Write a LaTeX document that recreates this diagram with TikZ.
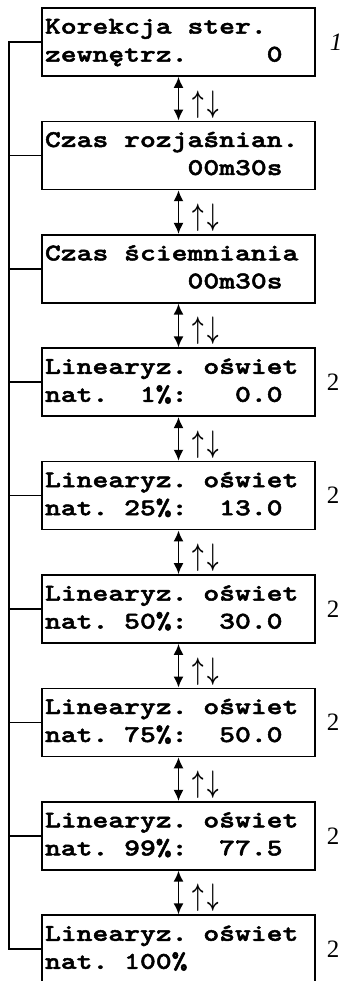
\documentclass[tikz,border=0pt]{standalone}
\usepackage{fontspec}
\setmainfont{Liberation Serif}
% slab-serif typewriter face for the display texts, widened to a 15.84pt cell
\newfontfamily\lcdfamily[FakeStretch=1.257, FakeBold=2]{lmmonolt10-bold.otf}
\usetikzlibrary{arrows.meta}

\tikzset{
  menubox/.style={draw, line width=1.7pt, minimum width=273pt, minimum height=68pt,
    text width=267pt, inner xsep=3pt, inner ysep=0pt, align=left,
    font=\lcdfamily\fontsize{24}{28}\selectfont},
  rail/.style={line width=1.7pt},
  navarrow/.style={line width=1.7pt, {Latex[width=10pt,length=11pt]}-{Latex[width=10pt,length=11pt]}},
  navlabel/.style={anchor=center, inner sep=0pt, font=\fontsize{24.88}{25}\selectfont\boldmath},
  sidenote/.style={inner sep=0pt, font=\fontsize{25}{25}\selectfont}
}

\begin{document}
\begin{tikzpicture}[x=1pt, y=-1pt]
  \clip (0,0) rectangle (348,981);
  \fill[white] (0,0) rectangle (348,981);

  % menu screens, one every 113.4pt
  \node[menubox] (b1) at (178.5, 42.0)  {\strut Korekcja\phantom{0}ster.\\\strut zewnętrz.\phantom{00000}0};
  \node[menubox] (b2) at (178.5, 155.4) {\strut Czas\phantom{0}rozjaśnian.\\\strut\phantom{000000000}00m30s};
  \node[menubox] (b3) at (178.5, 268.8) {\strut Czas\phantom{0}ściemniania\\\strut\phantom{000000000}00m30s};
  \node[menubox] (b4) at (178.5, 382.2) {\strut Linearyz.\phantom{0}oświet\\\strut nat.\phantom{00}1\%:\phantom{000}0.0};
  \node[menubox] (b5) at (178.5, 495.6) {\strut Linearyz.\phantom{0}oświet\\\strut nat.\phantom{0}25\%:\phantom{00}13.0};
  \node[menubox] (b6) at (178.5, 609.0) {\strut Linearyz.\phantom{0}oświet\\\strut nat.\phantom{0}50\%:\phantom{00}30.0};
  \node[menubox] (b7) at (178.5, 722.4) {\strut Linearyz.\phantom{0}oświet\\\strut nat.\phantom{0}75\%:\phantom{00}50.0};
  \node[menubox] (b8) at (178.5, 835.8) {\strut Linearyz.\phantom{0}oświet\\\strut nat.\phantom{0}99\%:\phantom{00}77.5};
  \node[menubox] (b9) at (178.5, 949.2) {\strut Linearyz.\phantom{0}oświet\\\strut nat.\phantom{0}100\%};

  % up/down navigation between consecutive screens
  \foreach \a/\b in {b1/b2,b2/b3,b3/b4,b4/b5,b5/b6,b6/b7,b7/b8,b8/b9}{
    \draw[navarrow] (\a.south) -- (\b.north);
    \node[navlabel] (lbl-\a) at ([xshift=27pt, yshift=-27.5pt]\a.south)
      {\scalebox{0.8}[1.25]{$\uparrow\mkern3mu\downarrow$}};
  }

  % return rail on the left
  \coordinate (railtop) at (9, 42.0);
  \coordinate (railbot) at (9, 949.2);
  \draw[rail, line join=miter] (b1.west) -- (railtop) -- (railbot) -- (b9.west);
  \foreach \n in {b2,b3,b4,b5,b6,b7,b8}{
    \draw[rail] (\n.west) -- (\n.west -| railtop);
  }

  % footnote marks
  \node[sidenote] (n1) at (336, 42.5) {\textit{1}};
  \foreach \n in {b4,b5,b6,b7,b8,b9}{
    \node[sidenote] (n-\n) at (\n.center -| 333,0) {2};
  }
\end{tikzpicture}
\end{document}
